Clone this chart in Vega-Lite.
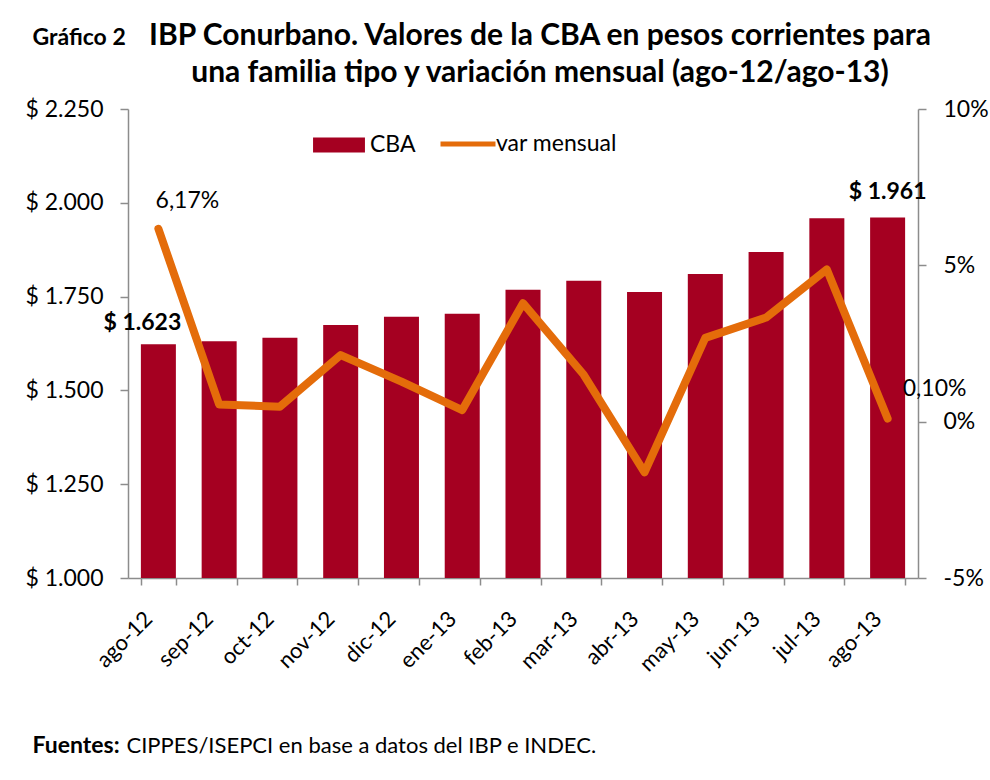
{
  "$schema": "https://vega.github.io/schema/vega-lite/v6.json",
  "autosize": {"type": "none"},
  "padding": {"left": 128, "top": 109, "right": 72, "bottom": 202},
  "width": 790,
  "height": 469,
  "background": "white",
  "title": {
    "text": ["IBP Conurbano. Valores de la CBA en pesos corrientes para", "una familia tipo y variación mensual (ago-12/ago-13)"],
    "font": "Lato", "fontSize": 30, "fontWeight": "bold", "color": "#000000",
    "anchor": "middle", "frame": "group", "dx": 17, "offset": -62, "lineHeight": 37
  },
  "config": {
    "view": {"stroke": null},
    "font": "Lato",
    "axis": {"labelFont": "Lato", "labelFontSize": 23, "labelColor": "#000000", "domainColor": "#8c8c8c", "tickColor": "#8c8c8c", "domainWidth": 1.5, "tickWidth": 1.5, "grid": false}
  },
  "data": {"values": [
    {"mes": "ago-12", "cba": 1623, "var": 6.17},
    {"mes": "sep-12", "cba": 1631, "var": 0.55},
    {"mes": "oct-12", "cba": 1640, "var": 0.48},
    {"mes": "nov-12", "cba": 1674, "var": 2.13},
    {"mes": "dic-12", "cba": 1696, "var": 1.28},
    {"mes": "ene-13", "cba": 1704, "var": 0.37},
    {"mes": "feb-13", "cba": 1768, "var": 3.79},
    {"mes": "mar-13", "cba": 1792, "var": 1.5},
    {"mes": "abr-13", "cba": 1762, "var": -1.62},
    {"mes": "may-13", "cba": 1810, "var": 2.68},
    {"mes": "jun-13", "cba": 1869, "var": 3.33},
    {"mes": "jul-13", "cba": 1959, "var": 4.87},
    {"mes": "ago-13", "cba": 1961, "var": 0.1}
  ]},
  "encoding": {
    "x": {"field": "mes", "type": "nominal", "sort": null,
      "scale": {"paddingInner": 0.424, "paddingOuter": 0.212},
      "axis": {"labelAngle": -45, "labelAlign": "right", "labelBaseline": "middle", "labelFontSize": 22, "labelPadding": 30, "labelOffset": -10, "tickBand": "extent", "tickSize": 7,
        "title": "Fuentes:", "titleFont": "Lato", "titleFontSize": 23, "titleFontWeight": "bold", "titleColor": "#000000", "titleAngle": 0, "titleAlign": "left", "titleBaseline": "middle", "titleX": -96, "titleY": 167}}
  },
  "layer": [
    {
      "layer": [
        {
          "mark": {"type": "bar", "clip": true},
          "encoding": {
            "y": {"field": "cba", "type": "quantitative", "scale": {"domain": [1000, 2250], "zero": false, "nice": false},
              "axis": {"values": [1000, 1250, 1500, 1750, 2000, 2250], "labelExpr": "'$ ' + replace(format(datum.value, ','), ',', '.')", "tickSize": 8, "labelPadding": 17,
                "title": "Gráfico 2", "titleFont": "Lato", "titleFontSize": 23, "titleFontWeight": "bold", "titleColor": "#000000", "titleAngle": 0, "titleAlign": "left", "titleBaseline": "middle", "titleX": -96, "titleY": -72}},
            "y2": {"datum": 1000},
            "fill": {"datum": "CBA", "scale": {"range": ["#A50021"]},
              "legend": {"orient": "none", "legendX": 196, "legendY": 21, "title": null, "symbolType": "M-1.73,-0.5H1.73V0.5H-1.73Z", "symbolSize": 900, "symbolStrokeWidth": 0, "labelFont": "Lato", "labelFontSize": 23, "labelColor": "#000000", "labelOffset": 16}}
          }
        },
        {
          "transform": [{"filter": "datum.mes === 'ago-12'"}, {"calculate": "'$ ' + replace(format(datum.cba, ','), ',', '.')", "as": "lab"}],
          "mark": {"type": "text", "font": "Lato", "fontSize": 23, "fontWeight": "bold", "color": "#000000", "dx": -16, "dy": -21},
          "encoding": {"y": {"field": "cba", "type": "quantitative"}, "text": {"field": "lab"}}
        },
        {
          "transform": [{"filter": "datum.mes === 'ago-13'"}, {"calculate": "'$ ' + replace(format(datum.cba, ','), ',', '.')", "as": "lab"}],
          "mark": {"type": "text", "font": "Lato", "fontSize": 23, "fontWeight": "bold", "color": "#000000", "dx": 0, "dy": -25},
          "encoding": {"y": {"field": "cba", "type": "quantitative"}, "text": {"field": "lab"}}
        }
      ]
    },
    {
      "layer": [
        {
          "mark": {"type": "line", "strokeWidth": 8, "strokeCap": "round", "strokeJoin": "round"},
          "encoding": {
            "y": {"field": "var", "type": "quantitative", "scale": {"domain": [-5, 10], "nice": false, "zero": false},
              "axis": {"orient": "right", "values": [-5, 0, 5, 10], "labelExpr": "datum.value + '%'", "tickSize": 8, "labelPadding": 17,
                "title": "CIPPES/ISEPCI en base a datos del IBP e INDEC.", "titleFont": "Lato", "titleFontSize": 22, "titleFontWeight": "normal", "titleColor": "#000000", "titleAngle": 0, "titleAlign": "left", "titleBaseline": "middle", "titleX": -792, "titleY": 636}},
            "stroke": {"datum": "var mensual", "scale": {"range": ["#E46C0A"]},
              "legend": {"orient": "none", "legendX": 310, "legendY": 5, "title": null, "symbolType": "stroke", "symbolSize": 3025, "symbolStrokeWidth": 5, "labelFont": "Lato", "labelFontSize": 23, "labelColor": "#000000", "labelOffset": -2}}
          }
        },
        {
          "transform": [{"filter": "datum.mes === 'ago-12'"}, {"calculate": "replace(format(datum.var, '.2f'), '.', ',') + '%'", "as": "lab"}],
          "mark": {"type": "text", "font": "Lato", "fontSize": 23, "color": "#000000", "dx": 29, "dy": -28},
          "encoding": {"y": {"field": "var", "type": "quantitative"}, "text": {"field": "lab"}}
        },
        {
          "transform": [{"filter": "datum.mes === 'ago-13'"}, {"calculate": "replace(format(datum.var, '.2f'), '.', ',') + '%'", "as": "lab"}],
          "mark": {"type": "text", "font": "Lato", "fontSize": 23, "color": "#000000", "dx": 47, "dy": -30},
          "encoding": {"y": {"field": "var", "type": "quantitative"}, "text": {"field": "lab"}}
        }
      ]
    }
  ],
  "resolve": {"scale": {"y": "independent"}}
}
